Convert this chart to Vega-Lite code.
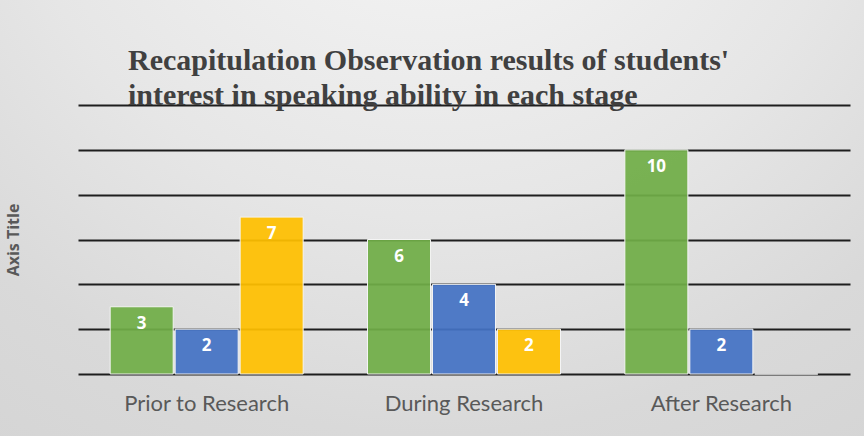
{
  "$schema": "https://vega.github.io/schema/vega-lite/v6.json",
  "width": 864,
  "height": 436,
  "autosize": {"type": "none"},
  "padding": 0,
  "background": "#ffffff",
  "title": {
    "text": ["Recapitulation Observation results of students'", "interest in speaking ability in each stage"],
    "anchor": "start",
    "frame": "group",
    "dx": 128,
    "offset": -111,
    "font": "Liberation Serif",
    "fontSize": 30,
    "fontWeight": "bold",
    "color": "#404040",
    "lineHeight": 35
  },
  "data": {
    "values": [
      {"stage": "Prior to Research", "series": "Series 1", "value": 3},
      {"stage": "Prior to Research", "series": "Series 2", "value": 2},
      {"stage": "Prior to Research", "series": "Series 3", "value": 7},
      {"stage": "During Research", "series": "Series 1", "value": 6},
      {"stage": "During Research", "series": "Series 2", "value": 4},
      {"stage": "During Research", "series": "Series 3", "value": 2},
      {"stage": "After Research", "series": "Series 1", "value": 10},
      {"stage": "After Research", "series": "Series 2", "value": 2},
      {"stage": "After Research", "series": "Series 3", "value": 0}
    ]
  },
  "encoding": {
    "x": {
      "field": "stage",
      "type": "nominal",
      "sort": ["Prior to Research", "During Research", "After Research"],
      "scale": {"range": [78, 850], "paddingInner": 0.25, "paddingOuter": 0.125},
      "axis": {
        "title": null,
        "labelAngle": 0,
        "ticks": false,
        "domain": false,
        "offset": -62,
        "labelFont": "Lato",
        "labelFontSize": 22,
        "labelColor": "#595959",
        "labelPadding": 19
      }
    },
    "xOffset": {
      "field": "series",
      "type": "nominal",
      "scale": {"paddingInner": 0.03}
    },
    "y": {
      "field": "value",
      "type": "quantitative",
      "scale": {"domain": [0, 12], "nice": false, "range": [374, 105]},
      "axis": {
        "title": "Axis Title",
        "labels": false,
        "ticks": false,
        "domain": false,
        "grid": true,
        "gridColor": "#1e1e1e",
        "gridWidth": 2,
        "values": [0, 2, 4, 6, 8, 10, 12],
        "titleFont": "Open Sans",
        "titleFontSize": 16,
        "titleFontWeight": "bold",
        "titleColor": "#595959",
        "titlePadding": -21
      }
    }
  },
  "layer": [
    {
      "mark": {"type": "bar", "stroke": "#f4f4f4", "strokeWidth": 1, "fillOpacity": 0.93},
      "encoding": {
        "color": {
          "field": "series",
          "type": "nominal",
          "scale": {"domain": ["Series 1", "Series 2", "Series 3"], "range": ["#70ad47", "#4472c4", "#ffc000"]},
          "legend": null
        }
      }
    },
    {
      "transform": [{"filter": "datum.value > 0"}],
      "mark": {"type": "text", "baseline": "middle", "dy": 17, "color": "#ffffff", "font": "Open Sans", "fontSize": 17, "fontWeight": "bold"},
      "encoding": {
        "text": {"field": "value", "type": "quantitative"}
      }
    }
  ],
  "config": {
    "view": {
      "stroke": null,
      "fill": {
        "gradient": "radial",
        "x1": 0.5, "y1": 0.0, "r1": 0,
        "x2": 0.5, "y2": 0.0, "r2": 1,
        "stops": [
          {"offset": 0, "color": "#f9f9f9"},
          {"offset": 0.5, "color": "#e6e6e6"},
          {"offset": 0.75, "color": "#d9d9d9"},
          {"offset": 1, "color": "#d3d3d3"}
        ]
      }
    }
  }
}
